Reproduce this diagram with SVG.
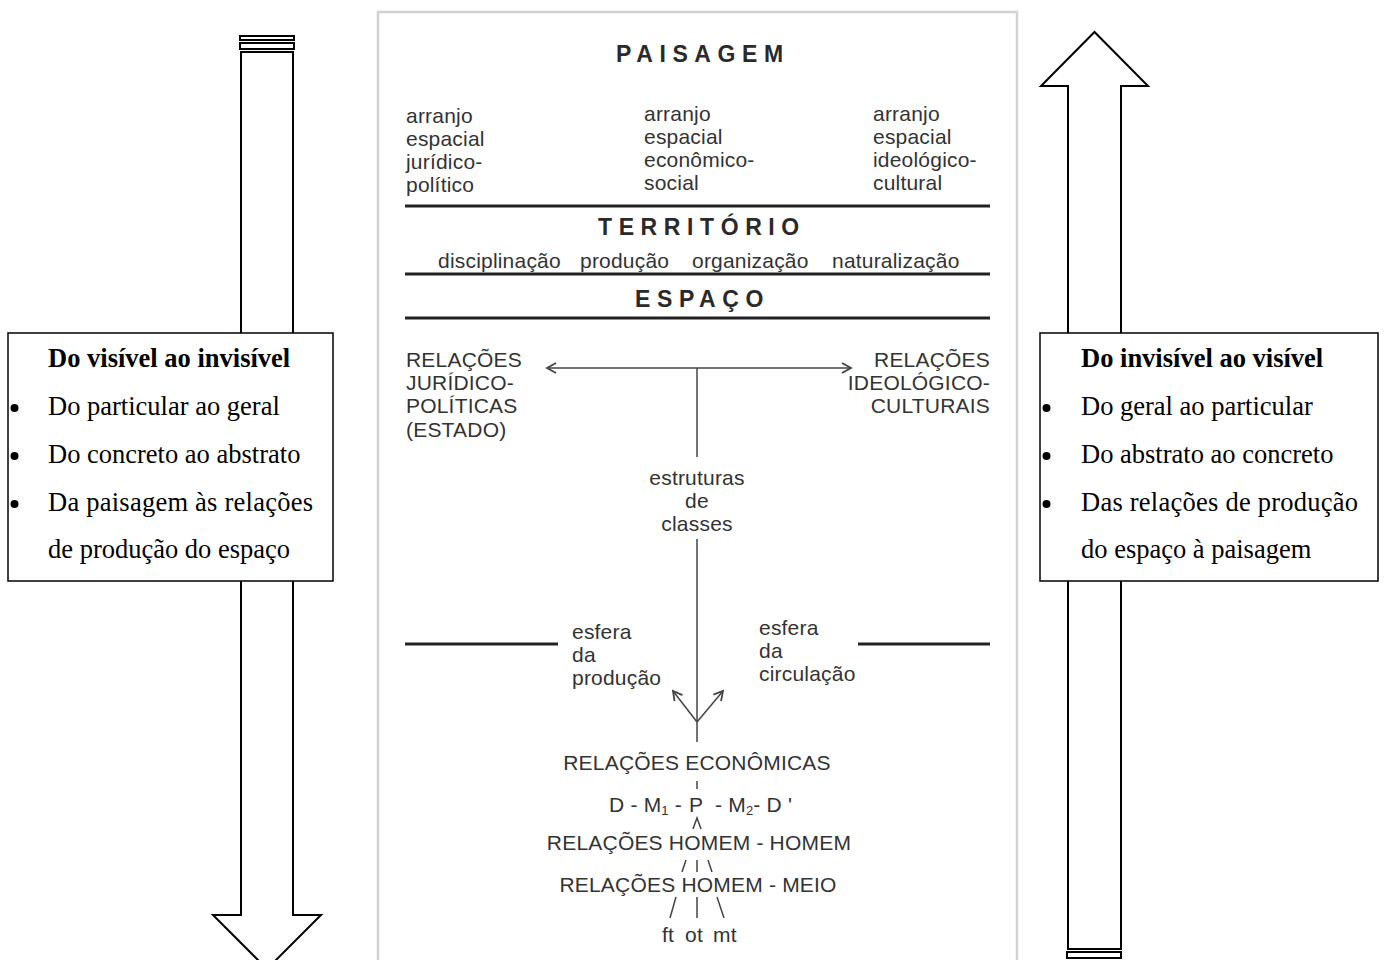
<svg xmlns="http://www.w3.org/2000/svg" width="1385" height="960" viewBox="0 0 1385 960">
<defs>
<style>
.ol{fill:#fff;stroke:#000;stroke-width:2}
.box{fill:#fff;stroke:#000;stroke-width:1.5}
.st{font-family:"Liberation Serif","Times New Roman",serif;font-size:26.5px;fill:#000}
.stb{font-family:"Liberation Serif","Times New Roman",serif;font-size:26.5px;font-weight:bold;fill:#000}
.t{font-family:"Liberation Sans",Arial,sans-serif;font-size:21px;letter-spacing:0.2px;fill:#333}
.h{font-family:"Liberation Sans",Arial,sans-serif;font-size:23px;font-weight:bold;letter-spacing:6.6px;fill:#2a2a2a}
.thick{stroke:#222;stroke-width:3;fill:none}
.ln{stroke:#444;stroke-width:1.5;fill:none}
.sub{font-size:13px}
</style>
<marker id="chev" viewBox="-12 -7 14 14" markerWidth="14" markerHeight="14" refX="0" refY="0" orient="auto-start-reverse" markerUnits="userSpaceOnUse">
<path d="M-9,-5 L0,0 L-9,5" fill="none" stroke="#444" stroke-width="1.8"/>
</marker>
</defs>
<rect width="1385" height="960" fill="#fff"/>

<g id="panel">
<rect x="378" y="12" width="639" height="960" fill="#fff" stroke="#d2d2d2" stroke-width="2.5"/>
</g>

<g id="arrow-left">
<rect class="ol" x="240" y="36" width="54" height="4"/>
<rect class="ol" x="240" y="43" width="54" height="6"/>
<path class="ol" d="M241,333 V52 H293 V333"/>
<path class="ol" d="M241,580 V915 H213 L267,969 L321,915 H293 V580"/>
</g>

<g id="arrow-right">
<path class="ol" d="M1068,333 V86 H1041 L1094.5,32 L1148,86 H1121 V333"/>
<path class="ol" d="M1068,580 V949 H1121 V580"/>
<rect class="ol" x="1067" y="952" width="54" height="6"/>
</g>

<g id="box-left">
<rect class="box" x="8" y="333" width="325" height="248"/>
<text class="stb" x="48" y="367">Do visível ao invisível</text>
<circle cx="14.5" cy="408" r="4"/>
<text class="st" x="48" y="415">Do particular ao geral</text>
<circle cx="14.5" cy="456" r="4"/>
<text class="st" x="48" y="463">Do concreto ao abstrato</text>
<circle cx="14.5" cy="504" r="4"/>
<text class="st" x="48" y="511" textLength="265" lengthAdjust="spacing">Da paisagem às relações</text>
<text class="st" x="48" y="558">de produção do espaço</text>
</g>

<g id="box-right">
<rect class="box" x="1040" y="333" width="338" height="248"/>
<text class="stb" x="1081" y="367">Do invisível ao visível</text>
<circle cx="1046.5" cy="408" r="4"/>
<text class="st" x="1081" y="415">Do geral ao particular</text>
<circle cx="1046.5" cy="456" r="4"/>
<text class="st" x="1081" y="463">Do abstrato ao concreto</text>
<circle cx="1046.5" cy="504" r="4"/>
<text class="st" x="1081" y="511" textLength="277" lengthAdjust="spacing">Das relações de produção</text>
<text class="st" x="1081" y="558">do espaço à paisagem</text>
</g>

<g id="paisagem">
<text class="h" x="616" y="62">PAISAGEM</text>
<text class="t" x="406" y="123">arranjo</text>
<text class="t" x="406" y="146">espacial</text>
<text class="t" x="406" y="169">jurídico-</text>
<text class="t" x="406" y="192">político</text>
<text class="t" x="644" y="121">arranjo</text>
<text class="t" x="644" y="144">espacial</text>
<text class="t" x="644" y="167">econômico-</text>
<text class="t" x="644" y="190">social</text>
<text class="t" x="873" y="121">arranjo</text>
<text class="t" x="873" y="144">espacial</text>
<text class="t" x="873" y="167">ideológico-</text>
<text class="t" x="873" y="190">cultural</text>
</g>

<g id="territorio">
<text class="h" x="598" y="235">TERRITÓRIO</text>
<text class="t" x="438" y="268">disciplinação</text>
<text class="t" x="580" y="268">produção</text>
<text class="t" x="692" y="268">organização</text>
<text class="t" x="832" y="268">naturalização</text>
</g>

<g id="espaco">
<text class="h" x="635" y="307">ESPAÇO</text>
</g>

<g id="rel-juridico">
<text class="t" x="406" y="367">RELAÇÕES</text>
<text class="t" x="406" y="390">JURÍDICO-</text>
<text class="t" x="406" y="413">POLÍTICAS</text>
<text class="t" x="406" y="437">(ESTADO)</text>
</g>

<g id="rel-ideologico">
<text class="t" x="990" y="367" text-anchor="end">RELAÇÕES</text>
<text class="t" x="990" y="390" text-anchor="end">IDEOLÓGICO-</text>
<text class="t" x="990" y="413" text-anchor="end">CULTURAIS</text>
</g>

<g id="estruturas">
<text class="t" x="697" y="485" text-anchor="middle">estruturas</text>
<text class="t" x="697" y="508" text-anchor="middle">de</text>
<text class="t" x="697" y="531" text-anchor="middle">classes</text>
</g>

<g id="esfera-producao">
<text class="t" x="572" y="639">esfera</text>
<text class="t" x="572" y="662">da</text>
<text class="t" x="572" y="685">produção</text>
</g>

<g id="esfera-circulacao">
<text class="t" x="759" y="635">esfera</text>
<text class="t" x="759" y="658">da</text>
<text class="t" x="759" y="681">circulação</text>
</g>

<g id="rel-economicas">
<text class="t" x="697" y="770" text-anchor="middle">RELAÇÕES ECONÔMICAS</text>
</g>

<g id="formula">
<text class="t"><tspan x="609" y="812">D - M</tspan><tspan class="sub" dy="3">1</tspan><tspan dy="-3"> - </tspan><tspan x="689">P</tspan><tspan x="715">- M</tspan><tspan class="sub" dy="3">2</tspan><tspan dy="-3">- D '</tspan></text>
</g>

<g id="rel-homem-homem">
<text class="t" x="699" y="850" text-anchor="middle">RELAÇÕES HOMEM - HOMEM</text>
</g>

<g id="rel-homem-meio">
<text class="t" x="698" y="892" text-anchor="middle">RELAÇÕES HOMEM - MEIO</text>
</g>

<g id="forcas">
<text class="t" y="942"><tspan x="662">ft</tspan> <tspan x="685">ot</tspan> <tspan x="713">mt</tspan></text>
</g>

<g id="connectors">
<line class="thick" x1="405" y1="206" x2="990" y2="206"/>
<line class="thick" x1="405" y1="274" x2="990" y2="274"/>
<line class="thick" x1="405" y1="318" x2="990" y2="318"/>
<line class="thick" x1="405" y1="644" x2="558" y2="644"/>
<line class="thick" x1="858" y1="644" x2="990" y2="644"/>
<line class="ln" x1="547" y1="368" x2="851" y2="368" marker-start="url(#chev)" marker-end="url(#chev)"/>
<line class="ln" x1="697" y1="368" x2="697" y2="457"/>
<line class="ln" x1="697" y1="539" x2="697" y2="742"/>
<line class="ln" x1="697" y1="722" x2="673" y2="691" marker-end="url(#chev)"/>
<line class="ln" x1="697" y1="722" x2="723" y2="691" marker-end="url(#chev)"/>
<line class="ln" x1="697" y1="781" x2="697" y2="789"/>
<polyline class="ln" points="693,829 697,818 701,829"/>
<line class="ln" x1="682" y1="872" x2="686" y2="860"/>
<line class="ln" x1="697" y1="860" x2="697" y2="872"/>
<line class="ln" x1="708" y1="860" x2="712" y2="872"/>
<line class="ln" x1="670" y1="918" x2="676" y2="897"/>
<line class="ln" x1="697" y1="897" x2="697" y2="918"/>
<line class="ln" x1="717" y1="897" x2="724" y2="918"/>
</g>
</svg>
